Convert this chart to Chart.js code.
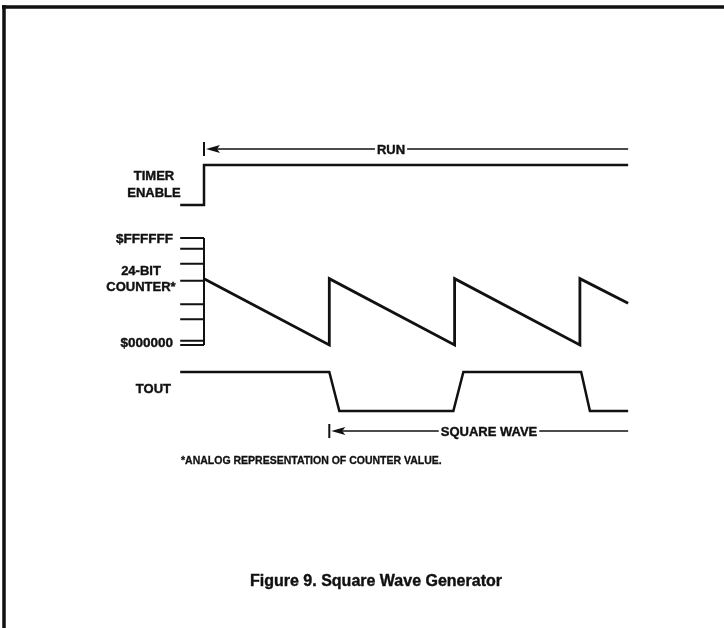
<!DOCTYPE html>
<html>
<head>
<meta charset="utf-8">
<script src="https://cdn.jsdelivr.net/npm/chart.js@4/dist/chart.umd.min.js"></script>
<style>
  html, body { margin: 0; padding: 0; background: #fff; }
  #wrap { position: relative; width: 724px; height: 628px; }
</style>
</head>
<body>
<div id="wrap"><canvas id="chart" width="724" height="628"></canvas></div>
<script>
// time is in counter periods, t = 0 is the moment the timer is enabled
const enableTime = [-0.19, 0, 0, 3.385]
const enableLevel = [0, 0, 1, 1]

// counter value as a fraction of $FFFFFF
const counterTime = [0, 1, 1, 2, 2, 3, 3, 3.385]
const counterLevel = [0.62, 0, 0.62, 0, 0.62, 0, 0.62, 0.39]

const toutTime = [-0.19, 1, 1.08, 1.99, 2.07, 3.01, 3.08, 3.385]
const toutLevel = [1, 1, 0, 0, 1, 1, 0, 0]

// marks on the counter bracket
const counterTicks = [1, 0.9, 0.76, 0.6, 0.38, 0.24, 0.04, 0]
const tickStart = -0.19

const runStart = 0
const squareStart = 1
const traceEnd = 3.385

// layout (pixels)
const W = 724, H = 628
const T0 = 204, PERIOD = 125.3
const bands = {
  yEn: [205, 165],
  yCnt: [345, 238],
  yOut: [411, 372]
}
const INK = "#111"
const FONT = '"Liberation Sans", Arial, sans-serif'

function pts(xs, ys) {
  return xs.map((x, i) => ({ x: x, y: ys[i] }))
}

function bandScale(p0, p1) {
  const unit = p0 - p1
  const min = -(H - p0) / unit
  return { type: "linear", display: false, min: min, max: min + H / unit }
}

const tickPts = []
counterTicks.forEach(v => {
  tickPts.push({ x: tickStart, y: v }, { x: 0, y: v }, { x: 0, y: null })
})
tickPts.push({ x: 0, y: 0 }, { x: 0, y: 1 })

function line(data, axis, width) {
  return {
    data: data,
    yAxisID: axis,
    borderColor: INK,
    borderWidth: width,
    pointRadius: 0,
    tension: 0,
    spanGaps: false,
    borderJoinStyle: "miter",
    borderCapStyle: "butt",
    clip: false
  }
}

// bold text with a hairline stroke so it reads as heavy as the print
function heavyText(ctx, s, x, y) {
  ctx.fillText(s, x, y)
  ctx.strokeText(s, x, y)
}

const annotations = {
  id: "annotations",
  afterDraw(chart) {
    const ctx = chart.ctx
    const x = chart.scales.x
    ctx.save()
    ctx.fillStyle = INK
    ctx.strokeStyle = INK

    // frame
    ctx.lineWidth = 3.5
    ctx.beginPath()
    ctx.moveTo(2, 7)
    ctx.lineTo(W, 7)
    ctx.moveTo(4, 5)
    ctx.lineTo(4, H)
    ctx.stroke()

    const arrow = (t0, t1, y, label, cx) => {
      const xa = x.getPixelForValue(t0)
      const xb = x.getPixelForValue(t1)
      ctx.font = "bold 13px " + FONT
      const tw = ctx.measureText(label).width
      ctx.lineWidth = 2
      ctx.beginPath()
      ctx.moveTo(xa, y - 7)
      ctx.lineTo(xa, y + 7)
      ctx.stroke()
      ctx.beginPath()
      ctx.moveTo(xa + 2, y)
      ctx.lineTo(xa + 16, y - 4)
      ctx.lineTo(xa + 13, y)
      ctx.lineTo(xa + 16, y + 4)
      ctx.closePath()
      ctx.fill()
      ctx.lineWidth = 1.3
      ctx.beginPath()
      ctx.moveTo(xa + 13, y)
      ctx.lineTo(cx - tw / 2 - 2, y)
      ctx.moveTo(cx + tw / 2 + 2, y)
      ctx.lineTo(xb, y)
      ctx.stroke()
      ctx.textAlign = "center"
      ctx.textBaseline = "middle"
      ctx.lineWidth = 0.4
      heavyText(ctx, label, cx, y + 1)
    }
    arrow(runStart, traceEnd, 149, "RUN", 391)
    arrow(squareStart, traceEnd, 431, "SQUARE WAVE", 489)

    ctx.lineWidth = 0.4
    ctx.font = "bold 13px " + FONT
    ctx.textBaseline = "middle"
    ctx.textAlign = "center"
    heavyText(ctx, "TIMER", 154, 176)
    heavyText(ctx, "ENABLE", 154, 193)
    heavyText(ctx, "24-BIT", 141, 271)
    heavyText(ctx, "COUNTER*", 141, 287)
    ctx.textAlign = "right"
    ctx.font = "bold 13.5px " + FONT
    heavyText(ctx, "$FFFFFF", 173, 239)
    heavyText(ctx, "$000000", 173, 343)
    ctx.font = "bold 13px " + FONT
    heavyText(ctx, "TOUT", 171, 389)

    ctx.font = "bold 10.5px " + FONT
    ctx.textAlign = "left"
    ctx.lineWidth = 0.3
    heavyText(ctx, "*ANALOG REPRESENTATION OF COUNTER VALUE.", 181, 461)

    ctx.font = "bold 16px " + FONT
    ctx.textAlign = "center"
    ctx.lineWidth = 0.4
    heavyText(ctx, "Figure 9. Square Wave Generator", 376, 582)
    ctx.restore()
  }
}

new Chart(document.getElementById("chart"), {
  type: "line",
  data: {
    datasets: [
      line(pts(enableTime, enableLevel), "yEn", 2.5),
      line(pts(counterTime, counterLevel), "yCnt", 2.8),
      line(tickPts, "yCnt", 2),
      line(pts(toutTime, toutLevel), "yOut", 2.5)
    ]
  },
  options: {
    responsive: false,
    animation: false,
    events: [],
    layout: { padding: 0 },
    plugins: {
      legend: { display: false },
      tooltip: { enabled: false }
    },
    scales: {
      x: { type: "linear", display: false, min: -T0 / PERIOD, max: (W - T0) / PERIOD },
      yEn: bandScale(...bands.yEn),
      yCnt: bandScale(...bands.yCnt),
      yOut: bandScale(...bands.yOut)
    }
  },
  plugins: [annotations]
})
</script>
</body>
</html>
